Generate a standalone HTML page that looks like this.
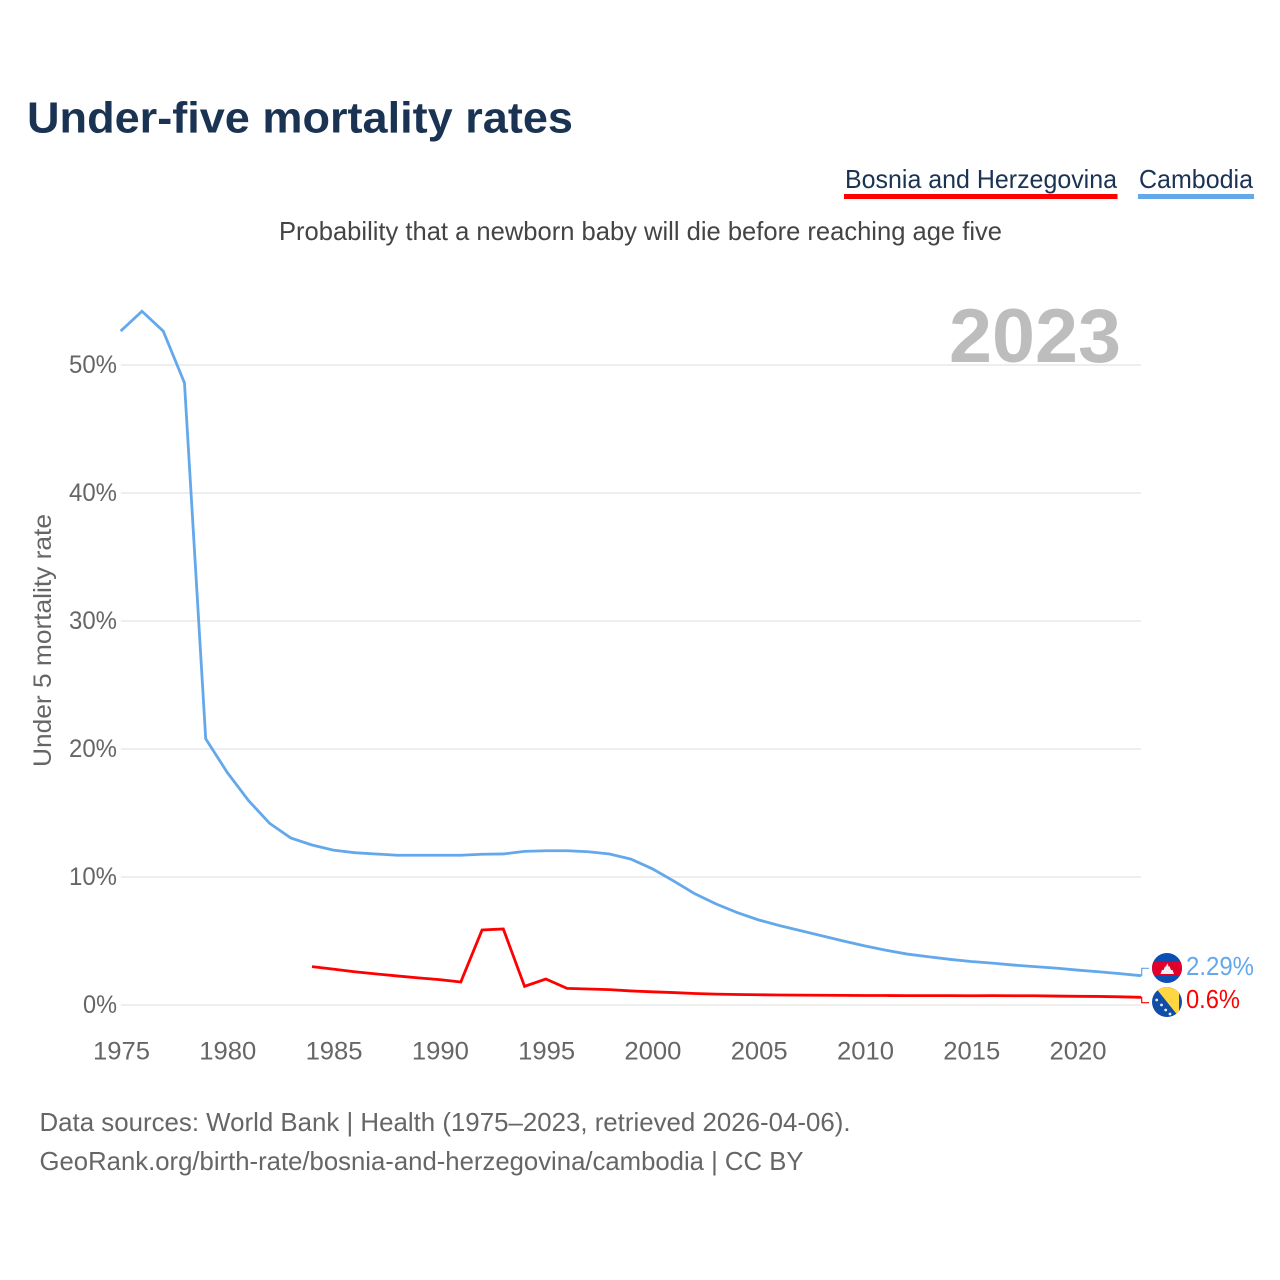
<!DOCTYPE html>
<html lang="en">
<head>
<meta charset="utf-8">
<title>Under-five mortality rates</title>
<style>
html,body{margin:0;padding:0;background:#fff;}
svg{display:block;font-family:"Liberation Sans",sans-serif;}
</style>
</head>
<body>
<svg id="chart" width="1280" height="1280" viewBox="0 0 1280 1280" xmlns="http://www.w3.org/2000/svg">
  <rect width="1280" height="1280" fill="#fff"/>
  <text x="27" y="132.5" font-size="44" font-weight="700" fill="#1a3353" textLength="546" lengthAdjust="spacingAndGlyphs">Under-five mortality rates</text>

  <g>
    <text x="845" y="188" font-size="26" fill="#1a3353" textLength="272" lengthAdjust="spacingAndGlyphs">Bosnia and Herzegovina</text>
    <rect x="844" y="194" width="273.5" height="5" fill="#ff0000"/>
  </g>
  <g>
    <text x="1139" y="188" font-size="26" fill="#1a3353" textLength="114" lengthAdjust="spacingAndGlyphs">Cambodia</text>
    <rect x="1138" y="194" width="116" height="5" fill="#64a8ec"/>
  </g>

  <text x="279" y="240" font-size="26" fill="#444" textLength="723" lengthAdjust="spacingAndGlyphs">Probability that a newborn baby will die before reaching age five</text>

  <g id="grid"></g>
  <g id="yticks"></g>
  <g id="xticks"></g>

  <text x="949" y="362" font-size="76" font-weight="700" fill="#bdbdbd" textLength="172" lengthAdjust="spacingAndGlyphs">2023</text>

  <text transform="translate(51,767) rotate(-90)" font-size="25" fill="#666" textLength="253" lengthAdjust="spacingAndGlyphs">Under 5 mortality rate</text>

  <g id="series"></g>

  <g id="end-labels"></g>

  <defs>
    <clipPath id="flag-clip-kh"><circle cx="1167" cy="968" r="15"/></clipPath>
    <clipPath id="flag-clip-ba"><circle cx="1167" cy="1002" r="15"/></clipPath>
  </defs>
  <g clip-path="url(#flag-clip-kh)">
    <rect x="1152" y="953" width="30" height="30" fill="#0a4fb3"/>
    <rect x="1152" y="961.5" width="30" height="13.5" fill="#e0002b"/>
    <polygon points="1160.5,974 1162,970 1163.5,970 1165,966.5 1166,966.5 1167.3,963.2 1168.6,966.5 1169.6,966.5 1171,970 1172.5,970 1174,974" fill="#f0f0f0"/>
  </g>
  <g clip-path="url(#flag-clip-ba)">
    <rect x="1152" y="987" width="30" height="30" fill="#0f4da8"/>
    <polygon points="1155,987 1179,987 1179,1017" fill="#fdd642"/>
    <g fill="#e8eef8">
      <circle cx="1156.7" cy="1000" r="1.4"/><circle cx="1161.5" cy="1005" r="1.4"/>
      <circle cx="1165.7" cy="1010" r="1.4"/><circle cx="1170" cy="1014" r="1.4"/>
    </g>
  </g>

  <text x="39.5" y="1131" font-size="26" fill="#666" textLength="811" lengthAdjust="spacingAndGlyphs">Data sources: World Bank | Health (1975–2023, retrieved 2026-04-06).</text>
  <text x="39.5" y="1170" font-size="26" fill="#666" textLength="764" lengthAdjust="spacingAndGlyphs">GeoRank.org/birth-rate/bosnia-and-herzegovina/cambodia | CC BY</text>
</svg>
<script>
var years = [1975,1976,1977,1978,1979,1980,1981,1982,1983,1984,1985,1986,1987,1988,1989,1990,1991,1992,1993,1994,1995,1996,1997,1998,1999,2000,2001,2002,2003,2004,2005,2006,2007,2008,2009,2010,2011,2012,2013,2014,2015,2016,2017,2018,2019,2020,2021,2022,2023];
var cambodiaValues = [52.65,54.2,52.65,48.6,20.8,18.2,16.0,14.2,13.05,12.5,12.1,11.9,11.8,11.7,11.7,11.7,11.7,11.78,11.8,12.0,12.05,12.05,11.97,11.8,11.4,10.65,9.7,8.7,7.9,7.22,6.65,6.2,5.8,5.4,5.0,4.62,4.28,3.98,3.77,3.57,3.4,3.27,3.12,3.0,2.88,2.73,2.6,2.45,2.29];
var bosniaValues = [null,null,null,null,null,null,null,null,null,3.0,2.8,2.6,2.43,2.27,2.12,1.98,1.8,5.86,5.94,1.46,2.03,1.3,1.25,1.2,1.1,1.03,0.97,0.9,0.85,0.82,0.8,0.78,0.77,0.76,0.75,0.74,0.74,0.73,0.73,0.73,0.72,0.73,0.72,0.72,0.7,0.68,0.67,0.64,0.6];
var yTickValues = [0,10,20,30,40,50];
var xTickValues = [1975,1980,1985,1990,1995,2000,2005,2010,2015,2020];
var endLabelCambodia = "2.29%";
var endLabelBosnia = "0.6%";

var NS = "http://www.w3.org/2000/svg";
function xScale(v){ return 120.7 + (v - 1975) * (1141 - 120.7) / 48; }
function yScale(v){ return 1005 - v * 12.8; }
function mk(tag, attrs, parent, txt){
  var el = document.createElementNS(NS, tag);
  for (var k in attrs) el.setAttribute(k, attrs[k]);
  if (txt !== undefined) el.textContent = txt;
  parent.appendChild(el);
  return el;
}
var grid = document.getElementById("grid");
var yt = document.getElementById("yticks");
var xt = document.getElementById("xticks");
var series = document.getElementById("series");
var ends = document.getElementById("end-labels");

yTickValues.forEach(function(v){
  var line = mk("line", {x1:121, x2:1141, y1:yScale(v), y2:yScale(v), stroke:"#eeeeee", "stroke-width":2}, grid);
  
  
  var label = v + "%";
  var t = mk("text", {x:117, y:yScale(v)+8, "font-size":25, fill:"#666", "text-anchor":"end", textLength:(label.length * 14 + 6), lengthAdjust:"spacingAndGlyphs"}, yt, label);
  
  
});
xTickValues.forEach(function(v){
  var t = mk("text", {x:xScale(v)+0.8, y:1059.5, "font-size":25, fill:"#666", "text-anchor":"middle", textLength:57, lengthAdjust:"spacingAndGlyphs"}, xt, String(v));
  
  
});

function pathFor(vals){
  var d = "", started = false;
  vals.forEach(function(v, i){
    if (v === null) return;
    d += (started ? "L" : "M") + xScale(years[i]).toFixed(2) + " " + yScale(v).toFixed(2);
    started = true;
  });
  return d;
}
var camLine = mk("path", {d:pathFor(cambodiaValues), fill:"none", stroke:"#64a8ec", "stroke-width":2.8, "stroke-linejoin":"miter"}, series);


var bosLine = mk("path", {d:pathFor(bosniaValues), fill:"none", stroke:"#ff0000", "stroke-width":2.8, "stroke-linejoin":"miter"}, series);



function lastOf(a){ return a[a.length - 1]; }
var camEndY = yScale(lastOf(cambodiaValues));
var bosEndY = yScale(lastOf(bosniaValues));
var c1 = mk("path", {d:"M1141 "+camEndY+"L1141.7 "+camEndY+"V968.3H1149", fill:"none", stroke:"#64a8ec", "stroke-width":1.2}, ends);


var c2 = mk("path", {d:"M1141 "+bosEndY+"L1141.7 "+bosEndY+"V1002.7H1149", fill:"none", stroke:"#ff0000", "stroke-width":1.2}, ends);


var l1 = mk("text", {x:1186, y:975, "font-size":26, fill:"#64a8ec", textLength:68, lengthAdjust:"spacingAndGlyphs"}, ends, endLabelCambodia);


var l2 = mk("text", {x:1186, y:1008, "font-size":26, fill:"#ff0000", textLength:54, lengthAdjust:"spacingAndGlyphs"}, ends, endLabelBosnia);


</script>
</body>
</html>
